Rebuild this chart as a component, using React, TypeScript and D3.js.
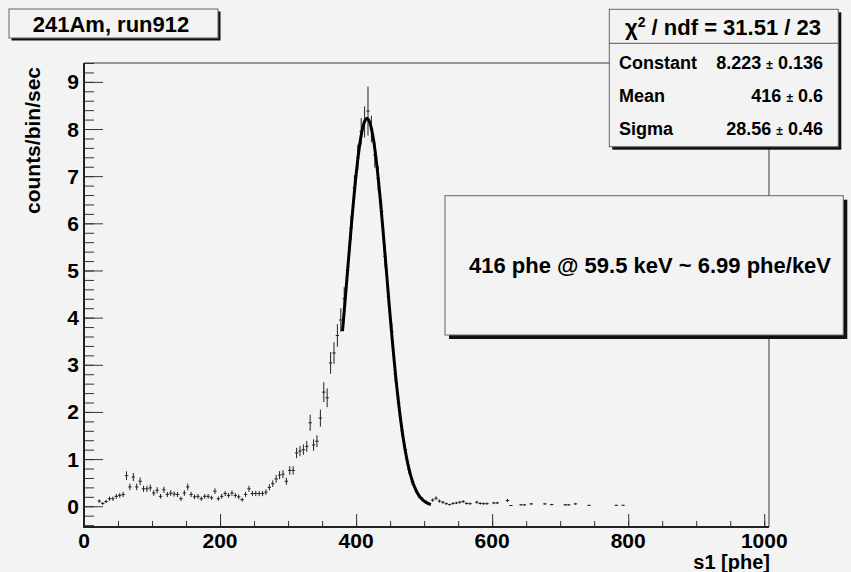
import React, { useEffect, useRef } from 'react';
import * as d3 from 'd3';

// bin centres (5 phe wide bins), rate and its error
const binX = [
  22.5, 27.5, 32.5, 37.5, 42.5, 47.5, 52.5, 57.5, 62.5, 67.5,
  72.5, 77.5, 82.5, 87.5, 92.5, 97.5, 102.5, 107.5, 112.5, 117.5,
  122.5, 127.5, 132.5, 137.5, 142.5, 147.5, 152.5, 157.5, 162.5, 167.5,
  172.5, 177.5, 182.5, 187.5, 192.5, 197.5, 202.5, 207.5, 212.5, 217.5,
  222.5, 227.5, 232.5, 237.5, 242.5, 247.5, 252.5, 257.5, 262.5, 267.5,
  272.5, 277.5, 282.5, 287.5, 292.5, 297.5, 302.5, 307.5, 312.5, 317.5,
  322.5, 327.5, 332.5, 337.5, 342.5, 347.5, 352.5, 357.5, 362.5, 367.5,
  372.5, 377.5, 382.5, 387.5, 392.5, 397.5, 402.5, 407.5, 412.5, 417.5,
  422.5, 427.5, 432.5, 437.5, 442.5, 447.5, 452.5, 457.5, 462.5, 467.5,
  472.5, 477.5, 482.5, 487.5, 492.5, 497.5, 502.5, 507.5, 512.5, 517.5,
  522.5, 527.5, 532.5, 537.5, 542.5, 547.5, 552.5, 557.5, 562.5, 567.5,
  577.5, 582.5, 587.5, 592.5, 602.5, 607.5, 622.5, 627.5, 642.5, 647.5,
  657.5, 677.5, 687.5, 707.5, 712.5, 722.5, 742.5, 782.5, 792.5,
];

const counts = [
  0.11, 0.06, 0.10, 0.16, 0.16, 0.21, 0.23, 0.25, 0.65, 0.41,
  0.62, 0.41, 0.53, 0.37, 0.37, 0.39, 0.28, 0.34, 0.21, 0.35,
  0.25, 0.28, 0.26, 0.25, 0.16, 0.28, 0.41, 0.25, 0.20, 0.21,
  0.16, 0.21, 0.21, 0.18, 0.32, 0.16, 0.21, 0.27, 0.23, 0.28,
  0.23, 0.20, 0.14, 0.25, 0.37, 0.27, 0.27, 0.27, 0.27, 0.30,
  0.40, 0.48, 0.58, 0.66, 0.68, 0.53, 0.76, 0.76, 1.13, 1.17,
  1.20, 1.27, 1.77, 1.30, 1.38, 1.87, 2.42, 2.30, 3.04, 3.25,
  3.62, 3.95, 4.40, 5.00, 5.90, 6.75, 7.40, 7.95, 8.15, 8.38,
  8.00, 7.45, 6.95, 6.25, 5.30, 4.45, 3.70, 2.80, 2.20, 1.60,
  1.20, 0.78, 0.52, 0.35, 0.22, 0.15, 0.10, 0.06, 0.13, 0.17,
  0.11, 0.085, 0.055, 0.035, 0.06, 0.07, 0.085, 0.10, 0.06, 0.055,
  0.085, 0.06, 0.055, 0.055, 0.07, 0.07, 0.12, 0.015, 0.03, 0.03,
  0.05, 0.05, 0.035, 0.03, 0.03, 0.05, 0.02, 0.02, 0.02,
];

const errs = [
  0.035, 0.03, 0.035, 0.045, 0.045, 0.05, 0.05, 0.055, 0.09, 0.07,
  0.085, 0.07, 0.08, 0.065, 0.065, 0.07, 0.06, 0.065, 0.05, 0.065,
  0.055, 0.06, 0.055, 0.055, 0.045, 0.06, 0.07, 0.055, 0.05, 0.05,
  0.045, 0.05, 0.05, 0.045, 0.06, 0.045, 0.05, 0.055, 0.05, 0.055,
  0.05, 0.05, 0.04, 0.055, 0.065, 0.055, 0.055, 0.055, 0.055, 0.06,
  0.065, 0.07, 0.08, 0.085, 0.085, 0.075, 0.09, 0.09, 0.11, 0.11,
  0.11, 0.115, 0.17, 0.12, 0.125, 0.18, 0.21, 0.2, 0.23, 0.23,
  0.24, 0.25, 0.25, 0.25, 0.26, 0.27, 0.27, 0.28, 0.33, 0.52,
  0.28, 0.27, 0.26, 0.25, 0.23, 0.21, 0.19, 0.17, 0.15, 0.13,
  0.11, 0.09, 0.075, 0.06, 0.05, 0.04, 0.035, 0.03, 0.035, 0.04,
  0.035, 0.03, 0.025, 0.02, 0.025, 0.025, 0.03, 0.03, 0.025, 0.025,
  0.03, 0.025, 0.025, 0.025, 0.025, 0.025, 0.035, 0.01, 0.015, 0.015,
  0.02, 0.02, 0.015, 0.015, 0.015, 0.02, 0.01, 0.01, 0.01,
];

const xTicks = [0, 200, 400, 600, 800, 1000];
const yTicks = [0, 1, 2, 3, 4, 5, 6, 7, 8, 9];

// gaussian fit parameters as printed in the stats box
const fitConstant = 8.223;
const fitMean = 416;
const fitSigma = 28.56;
const fitRange = [380, 510];

const titleText = '241Am, run912';
const statsRows = [
  ['Constant', '8.223', '0.136'],
  ['Mean', '416', '0.6'],
  ['Sigma', '28.56', '0.46'],
];
const noteText = '416 phe @ 59.5 keV ~ 6.99 phe/keV';

const W = 851;
const H = 572;
const frame = { left: 84, right: 769, top: 63, bottom: 527 };
const BG = '#f3f3f3';
const FONT = "'Liberation Sans', Arial, Helvetica, sans-serif";

const App = () => {
  const ref = useRef<SVGSVGElement>(null);

  useEffect(() => {
    document.body.style.margin = '0';
    const svg = d3.select(ref.current);
    svg.selectAll('*').remove();

    svg.append('rect').attr('width', W).attr('height', H).attr('fill', BG);

    const x = d3.scaleLinear().domain([0, 1007]).range([frame.left, frame.right]);
    const y = d3.scaleLinear().domain([-0.44, 9.4]).range([frame.bottom, frame.top]);

    // thin top / right sides of the frame
    svg.append('path')
      .attr('d', `M${frame.left},${frame.top}H${frame.right}V${frame.bottom}`)
      .attr('fill', 'none')
      .attr('stroke', '#777')
      .attr('stroke-width', 1.5);

    // y axis ticks (pointing into the frame)
    svg.append('g')
      .attr('transform', `translate(${frame.left},0)`)
      .attr('color', '#333')
      .call(d3.axisRight(y).tickValues(y.ticks(50)).tickSize(10).tickFormat(() => ''))
      .call(g => g.select('.domain').remove());
    svg.append('g')
      .attr('transform', `translate(${frame.left},0)`)
      .attr('color', '#333')
      .call(d3.axisRight(y).tickValues(yTicks).tickSize(19).tickFormat(() => ''))
      .call(g => g.select('.domain').remove());

    // x axis ticks
    svg.append('g')
      .attr('transform', `translate(0,${frame.bottom})`)
      .attr('color', '#333')
      .call(d3.axisTop(x).tickValues(x.ticks(20)).tickSize(6).tickFormat(() => ''))
      .call(g => g.select('.domain').remove());
    svg.append('g')
      .attr('transform', `translate(0,${frame.bottom})`)
      .attr('color', '#333')
      .call(d3.axisTop(x).tickValues(xTicks).tickSize(13).tickFormat(() => ''))
      .call(g => g.select('.domain').remove());

    // heavy left / bottom sides
    svg.append('path')
      .attr('d', `M${frame.left},${frame.top}V${frame.bottom}H${frame.right}`)
      .attr('fill', 'none')
      .attr('stroke', '#222')
      .attr('stroke-width', 2);

    // tick labels
    svg.append('g').selectAll('text')
      .data(yTicks)
      .enter()
      .append('text')
      .attr('x', 79)
      .attr('y', d => y(d) + 7.5)
      .attr('text-anchor', 'end')
      .attr('font-family', FONT)
      .attr('font-weight', 'bold')
      .attr('font-size', 21)
      .text(d => d);

    svg.append('g').selectAll('text')
      .data(xTicks)
      .enter()
      .append('text')
      .attr('x', d => x(d))
      .attr('y', 548)
      .attr('text-anchor', 'middle')
      .attr('font-family', FONT)
      .attr('font-weight', 'bold')
      .attr('font-size', 21)
      .text(d => d);

    // axis titles
    svg.append('text')
      .attr('transform', 'translate(40,67) rotate(-90)')
      .attr('text-anchor', 'end')
      .attr('font-family', FONT)
      .attr('font-weight', 'bold')
      .attr('font-size', 21)
      .text('counts/bin/sec');

    svg.append('text')
      .attr('x', 770)
      .attr('y', 569)
      .attr('text-anchor', 'end')
      .attr('font-family', FONT)
      .attr('font-weight', 'bold')
      .attr('font-size', 20)
      .text('s1 [phe]');

    // histogram points with error bars
    const pts = svg.append('g').attr('stroke', '#222').attr('stroke-width', 1);
    binX.forEach((bx, i) => {
      const v = counts[i];
      const e = errs[i];
      pts.append('line')
        .attr('x1', x(bx - 2.5)).attr('x2', x(bx + 2.5))
        .attr('y1', y(v)).attr('y2', y(v));
      pts.append('line')
        .attr('x1', x(bx)).attr('x2', x(bx))
        .attr('y1', y(v - e)).attr('y2', y(v + e));
    });

    // gaussian fit
    const fitX = d3.range(fitRange[0], fitRange[1] + 0.5, 1);
    const gauss = (t: number) => fitConstant * Math.exp(-0.5 * ((t - fitMean) / fitSigma) ** 2);
    svg.append('path')
      .datum(fitX)
      .attr('d', d3.line<number>().x(d => x(d)).y(d => y(gauss(d))))
      .attr('fill', 'none')
      .attr('stroke', '#000')
      .attr('stroke-width', 3)
      .attr('stroke-linejoin', 'round');

    // helper for ROOT-style boxes with a drop shadow
    const box = (bx: number, by: number, bw: number, bh: number, sh: number) => {
      svg.append('rect')
        .attr('x', bx + sh).attr('y', by + sh)
        .attr('width', bw).attr('height', bh)
        .attr('fill', '#111');
      svg.append('rect')
        .attr('x', bx).attr('y', by)
        .attr('width', bw).attr('height', bh)
        .attr('fill', BG)
        .attr('stroke', '#666')
        .attr('stroke-width', 1);
    };

    // title
    box(9, 9, 209, 29, 2.5);
    svg.append('text')
      .attr('x', 111)
      .attr('y', 31.5)
      .attr('text-anchor', 'middle')
      .attr('font-family', FONT)
      .attr('font-weight', 'bold')
      .attr('font-size', 22)
      .text(titleText);

    // stats box
    box(609.3, 9.3, 229, 137.4, 3);
    svg.append('line')
      .attr('x1', 609.3).attr('x2', 838.3)
      .attr('y1', 43.3).attr('y2', 43.3)
      .attr('stroke', '#555');
    const head = svg.append('text')
      .attr('x', 723)
      .attr('y', 35)
      .attr('text-anchor', 'middle')
      .attr('font-family', FONT)
      .attr('font-weight', 'bold')
      .attr('font-size', 22);
    head.append('tspan').text('χ');
    head.append('tspan').attr('font-size', 14).attr('dy', -8).text('2');
    head.append('tspan').attr('dy', 8).text(' / ndf = 31.51 / 23');

    statsRows.forEach((r, i) => {
      const by = 69.3 + i * 33;
      svg.append('text')
        .attr('x', 619)
        .attr('y', by)
        .attr('font-family', FONT)
        .attr('font-weight', 'bold')
        .attr('font-size', 18)
        .text(r[0]);
      const t = svg.append('text')
        .attr('x', 823)
        .attr('y', by)
        .attr('text-anchor', 'end')
        .attr('font-family', FONT)
        .attr('font-weight', 'bold')
        .attr('font-size', 18);
      t.append('tspan').text(r[1] + ' ');
      t.append('tspan').attr('font-size', 12).text('±');
      t.append('tspan').text(' ' + r[2]);
    });

    // note box
    box(445, 195.7, 398.3, 139.3, 4);
    svg.append('text')
      .attr('x', 650)
      .attr('y', 272.7)
      .attr('text-anchor', 'middle')
      .attr('font-family', FONT)
      .attr('font-weight', 'bold')
      .attr('font-size', 22)
      .text(noteText);
  }, []);

  return <svg ref={ref} width={W} height={H} style={{ display: 'block' }}></svg>;
};

export default App;
